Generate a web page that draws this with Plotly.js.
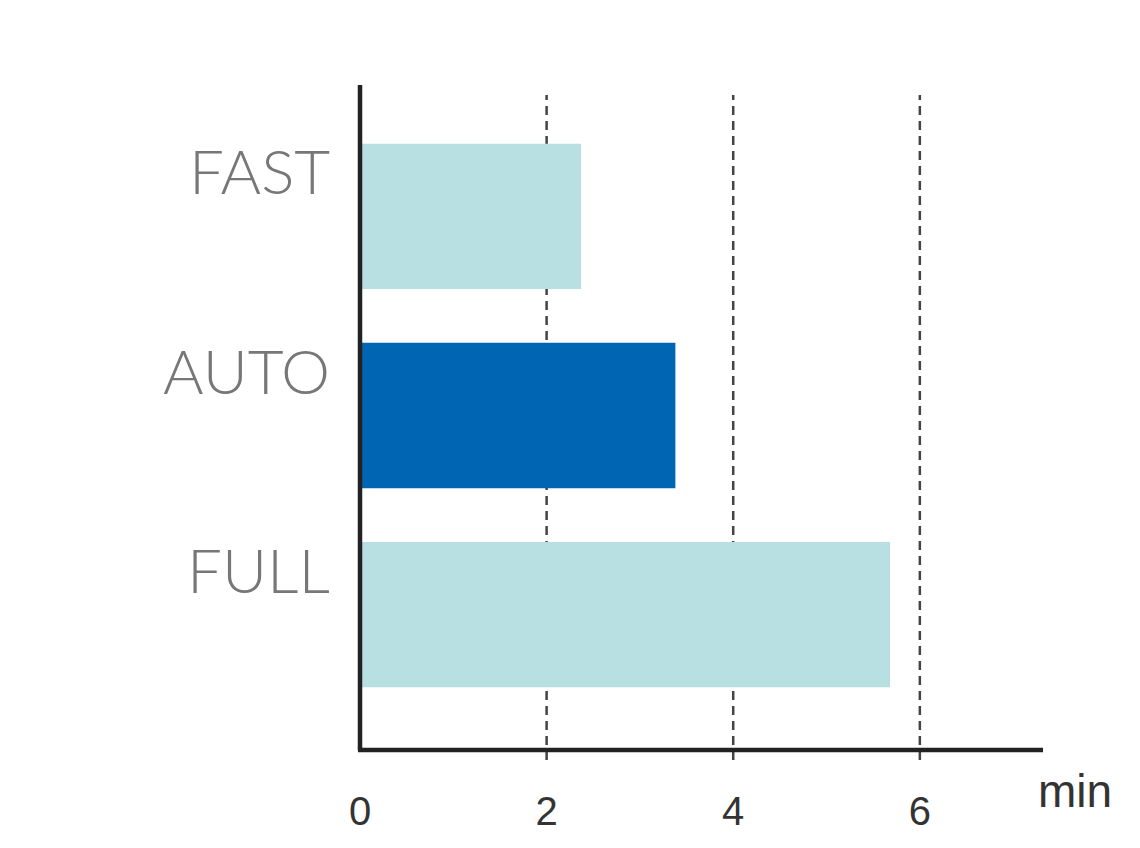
<!DOCTYPE html>
<html>
<head>
<meta charset="utf-8">
<script src="https://cdn.plot.ly/plotly-3.0.1.min.js"></script>
<style>html,body{margin:0;padding:0;background:#fff;}#chart{width:1140px;height:848px;}</style>
</head>
<body>
<div id="chart"></div>
<script>
const categories = ['FULL', 'AUTO', 'FAST'];
const minutes = [5.68, 3.38, 2.37];
const barColors = ['#b8dfe2', '#0066b3', '#b8dfe2'];
const xTickVals = [0, 2, 4, 6];
const xTickText = ['0', '2', '4', '6'];
const gridVals = [2, 4, 6];
const unitLabel = 'min';

const trace = {
  type: 'bar',
  orientation: 'h',
  y: categories,
  x: minutes,
  marker: {color: barColors, line: {width: 0}},
  width: 0.73,
  hoverinfo: 'x+y'
};

const shapes = gridVals.map(v => ({
  type: 'line', xref: 'x', yref: 'paper', layer: 'below',
  x0: v, x1: v, y0: -0.015, y1: 0.985,
  line: {color: '#444', width: 2.5, dash: '9px,6px'}
}));

const catAnnotations = categories.map(c => ({
  text: c, xref: 'paper', yref: 'y', x: 0, y: c,
  xanchor: 'right', yanchor: 'middle', xshift: -28, yshift: 46,
  showarrow: false,
  font: {family: 'Lato, sans-serif', weight: 300, size: 62, color: '#777'}
}));

const layout = {
  width: 1140, height: 848,
  margin: {l: 360, r: 97, t: 85, b: 98},
  paper_bgcolor: '#fff', plot_bgcolor: '#fff',
  showlegend: false,
  xaxis: {
    range: [0, 7.32],
    tickvals: xTickVals, ticktext: xTickText,
    showgrid: false, zeroline: false,
    showline: false, ticks: '',
    ticklabelstandoff: 34,
    tickfont: {family: 'Liberation Sans, Arial, sans-serif', size: 40, color: '#333'},
    fixedrange: true
  },
  yaxis: {
    type: 'category',
    categoryorder: 'array', categoryarray: categories,
    range: [-0.68, 2.66],
    showgrid: false, zeroline: false, showline: false, ticks: '',
    showticklabels: false,
    fixedrange: true
  },
  shapes: shapes.concat([
    {type: 'line', xref: 'paper', yref: 'paper', x0: 0, x1: 0, y0: 0, y1: 1,
     line: {color: '#222', width: 4.5}},
    {type: 'line', xref: 'paper', yref: 'paper', x0: -0.003, x1: 1, y0: 0, y1: 0,
     line: {color: '#222', width: 4.5}}
  ]),
  annotations: catAnnotations.concat([{
    text: unitLabel, xref: 'paper', yref: 'paper', x: 1.047, y: -0.062,
    xanchor: 'center', yanchor: 'middle', showarrow: false,
    font: {family: 'Liberation Sans, Arial, sans-serif', size: 46, color: '#333'}
  }])
};

Plotly.newPlot('chart', [trace], layout, {displayModeBar: false, staticPlot: true});
</script>
</body>
</html>
